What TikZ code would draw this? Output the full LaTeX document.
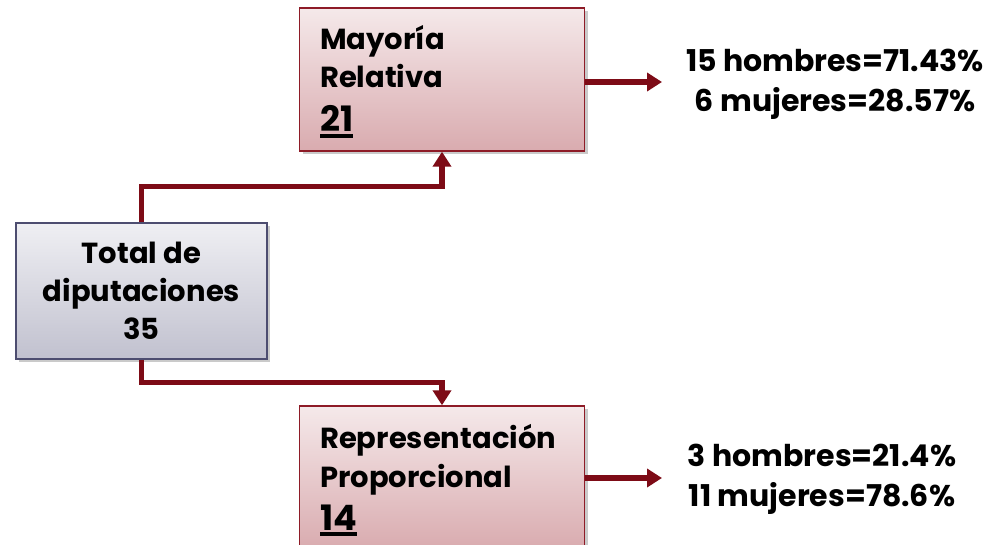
\documentclass[tikz,border=0pt]{standalone}
\usepackage{fontspec}
\setmainfont{Poppins}[BoldFont={* Bold}]
\usetikzlibrary{arrows.meta,shadows}
\definecolor{redline}{HTML}{7D0B16}
\definecolor{redborder}{HTML}{8E1B27}
\definecolor{pinktop}{HTML}{F5E9EA}
\definecolor{pinkbot}{HTML}{D9ABAF}
\definecolor{graytop}{HTML}{EFEFF3}
\definecolor{graybot}{HTML}{C1C1CF}
\definecolor{grayborder}{HTML}{4D4D70}
\newcommand\myul[1]{\setbox0\hbox{#1}\rlap{\raisebox{-6.3pt}{\rule{\wd0}{4pt}}}\box0}
\tikzset{
  redbox/.style={draw=redborder, line width=1.4pt, top color=pinktop, bottom color=pinkbot,
    minimum width=285pt, minimum height=143pt, inner sep=0pt,
    drop shadow={shadow xshift=3pt, shadow yshift=-3pt, opacity=0.35, fill=black!60}},
  graybox/.style={draw=grayborder, line width=1.4pt, top color=graytop, bottom color=graybot,
    minimum width=251pt, minimum height=136pt, inner sep=0pt,
    drop shadow={shadow xshift=3pt, shadow yshift=-3pt, opacity=0.35, fill=black!60}},
  conn/.style={draw=redline, line width=5.5pt, -{Triangle[length=15pt,width=18pt]}},
  txt/.style={font=\fontsize{29}{40}\selectfont\bfseries, inner sep=0pt},
  restxt/.style={font=\fontsize{30}{40}\selectfont\bfseries, inner sep=0pt, align=center},
}
\begin{document}
\begin{tikzpicture}[x=1pt,y=-1pt]
\useasboundingbox (0,0) rectangle (996,545);
\node[redbox] (mr) at (442,79.5) {};
\node[txt, anchor=base west, align=left, font=\fontsize{29}{38}\selectfont\bfseries] (mrt) at (320,88) {Mayoría\\Relativa};
\node[txt, anchor=base west, font=\fontsize{35}{40}\selectfont\bfseries] (mrn) at (320,132) {\myul{21}};

\node[redbox] (rp) at (442,477.5) {};
\node[txt, anchor=base west, align=left, font=\fontsize{29}{39}\selectfont\bfseries] (rpt) at (320,487) {Representación\\Proporcional};
\node[txt, anchor=base west, font=\fontsize{35}{40}\selectfont\bfseries] (rpn) at (320,530) {\myul{14}};

\node[graybox] (tot) at (141.5,291) {};
\node[txt, align=center, font=\fontsize{29}{38}\selectfont\bfseries] (tott) at (141.5,291) {Total de\\diputaciones\\35};

\draw[conn] (tot.north) -- ++(0,-36) -| (mr.south);
\draw[conn] (tot.south) -- ++(0,23) -| (rp.north);

\coordinate (a1) at (662,82);
\coordinate (a2) at (662,478);
\draw[conn] (mr.east |- a1) -- (a1);
\draw[conn] (rp.east |- a2) -- (a2);

\node[restxt] (res1) at (835,84) {15 hombres=71.43\%\\6 mujeres=28.57\%};
\node[restxt] (res2) at (822,479) {3 hombres=21.4\%\\11 mujeres=78.6\%};
\end{tikzpicture}
\end{document}
